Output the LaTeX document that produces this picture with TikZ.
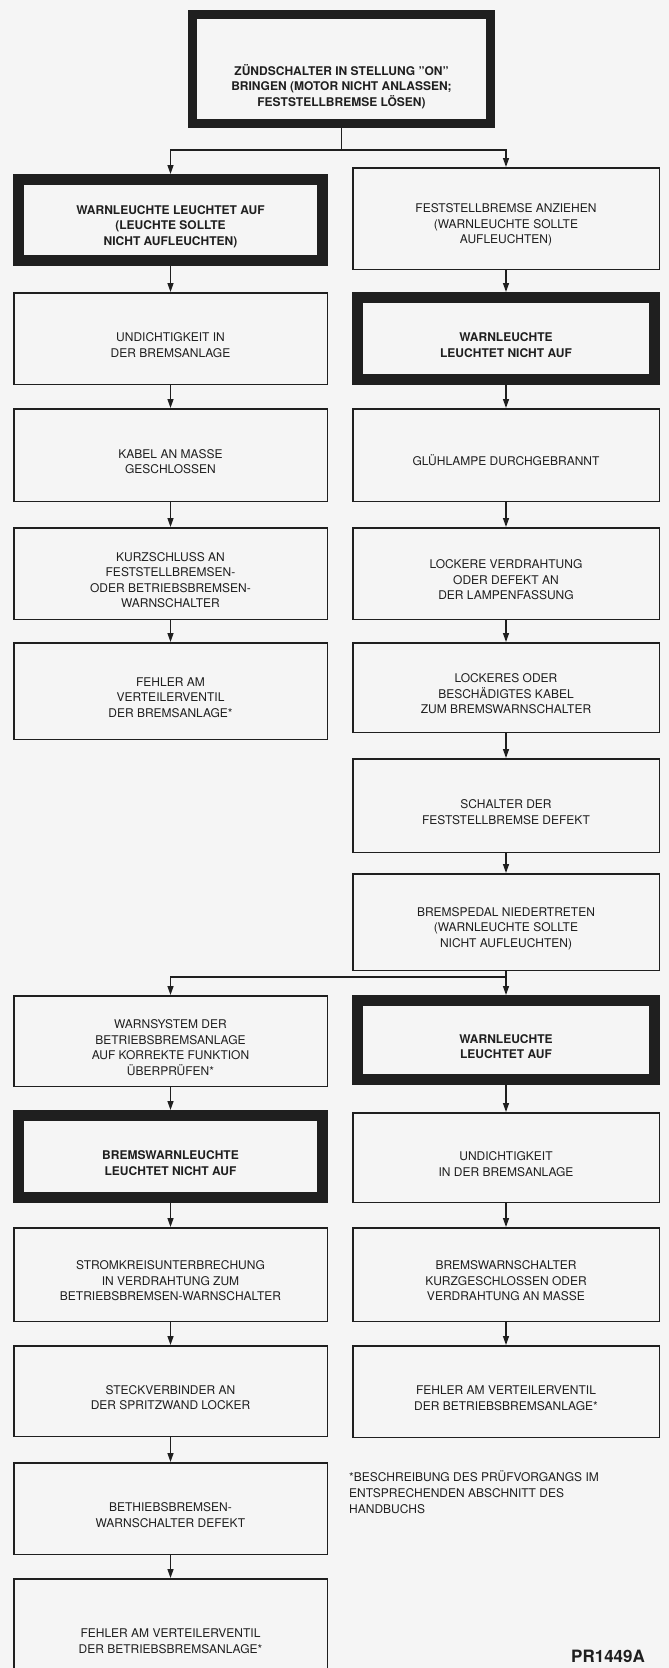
\documentclass[tikz,border=0pt]{standalone}
\usepackage{fontspec}
\setmainfont{TeX Gyre Heros}
\usetikzlibrary{arrows.meta, calc}

\definecolor{paper}{gray}{0.96}
\definecolor{ink}{gray}{0.12}

% raises the first line so the text sits a little low in its box
\newcommand{\boxlift}[1][22pt]{\rule{0pt}{#1}}

\tikzset{
  box/.style={draw=ink, line width=1.5pt, align=center, text=ink,
    font=\fontsize{12}{15.5}\selectfont},
  heavybox/.style={box, line width=11pt, font=\fontsize{12}{15.5}\selectfont\bfseries},
  lcol/.style={minimum width=315pt-\pgflinewidth},
  rcol/.style={minimum width=308pt-\pgflinewidth},
  oh/.style={minimum height=#1pt-\pgflinewidth},
  arr/.style={draw=ink, line width=1.3pt, -{Triangle[length=9pt,width=6pt]}},
  link/.style={draw=ink, line width=1.3pt},
  note/.style={align=left, inner sep=0pt, text=ink, font=\fontsize{12}{16}\selectfont}
}

\begin{document}
\begin{tikzpicture}[x=1pt, y=-1pt]
  % --- page ---
  \path[use as bounding box, clip] (0,0) rectangle (669,1668);
  \fill[paper] (0,0) rectangle (669,1668);

  % --- start box ---
  \node[heavybox, line width=9pt, minimum width=307pt-\pgflinewidth, oh=118] (start) at (341.5,69)
    {\boxlift[46pt]ZÜNDSCHALTER IN STELLUNG "ON"\\BRINGEN (MOTOR NICHT ANLASSEN;\\FESTSTELLBREMSE LÖSEN)};

  % --- left column ---
  \node[heavybox, lcol, oh=92] (l1) at (170.5,220)
    {\boxlift WARNLEUCHTE LEUCHTET AUF\\(LEUCHTE SOLLTE\\NICHT AUFLEUCHTEN)};
  \node[box, lcol, oh=93] (l2) at (170.5,338.5) {\boxlift UNDICHTIGKEIT IN\\DER BREMSANLAGE};
  \node[box, lcol, oh=94] (l3) at (170.5,455) {\boxlift KABEL AN MASSE\\GESCHLOSSEN};
  \node[box, lcol, oh=93] (l4) at (170.5,573.5)
    {\boxlift KURZSCHLUSS AN\\FESTSTELLBREMSEN-\\ODER BETRIEBSBREMSEN-\\WARNSCHALTER};
  \node[box, lcol, oh=98] (l5) at (170.5,691) {\boxlift FEHLER AM\\VERTEILERVENTIL\\DER BREMSANLAGE*};

  \node[box, lcol, oh=92] (l8) at (170.5,1041)
    {\boxlift WARNSYSTEM DER\\BETRIEBSBREMSANLAGE\\AUF KORREKTE FUNKTION\\ÜBERPRÜFEN*};
  \node[heavybox, lcol, oh=93] (l9) at (170.5,1156.5) {\boxlift BREMSWARNLEUCHTE\\LEUCHTET NICHT AUF};
  \node[box, lcol, oh=95] (l10) at (170.5,1274.5)
    {\boxlift STROMKREISUNTERBRECHUNG\\IN VERDRAHTUNG ZUM\\BETRIEBSBREMSEN-WARNSCHALTER};
  \node[box, lcol, oh=92] (l11) at (170.5,1391) {\boxlift STECKVERBINDER AN\\DER SPRITZWAND LOCKER};
  \node[box, lcol, oh=93] (l12) at (170.5,1508.5) {\boxlift BETHIEBSBREMSEN-\\WARNSCHALTER DEFEKT};
  \node[box, lcol, oh=126] (l13) at (170.5,1641)
    {FEHLER AM VERTEILERVENTIL\\DER BETRIEBSBREMSANLAGE*};

  % --- right column ---
  \node[box, rcol, oh=103] (r1) at (506,218.5)
    {\boxlift FESTSTELLBREMSE ANZIEHEN\\(WARNLEUCHTE SOLLTE\\AUFLEUCHTEN)};
  \node[heavybox, rcol, oh=93] (r2) at (506,338.5) {\boxlift WARNLEUCHTE\\LEUCHTET NICHT AUF};
  \node[box, rcol, oh=94] (r3) at (506,455) {\boxlift GLÜHLAMPE DURCHGEBRANNT};
  \node[box, rcol, oh=93] (r4) at (506,573.5)
    {\boxlift LOCKERE VERDRAHTUNG\\ODER DEFEKT AN\\DER LAMPENFASSUNG};
  \node[box, rcol, oh=91] (r5) at (506,687.5)
    {\boxlift LOCKERES ODER\\BESCHÄDIGTES KABEL\\ZUM BREMSWARNSCHALTER};
  \node[box, rcol, oh=95] (r6) at (506,805.5) {\boxlift SCHALTER DER\\FESTSTELLBREMSE DEFEKT};
  \node[box, rcol, oh=98] (r7) at (506,922)
    {\boxlift BREMSPEDAL NIEDERTRETEN\\(WARNLEUCHTE SOLLTE\\NICHT AUFLEUCHTEN)};
  \node[heavybox, rcol, oh=90] (r8) at (506,1040) {\boxlift WARNLEUCHTE\\LEUCHTET AUF};
  \node[box, rcol, oh=91] (r9) at (506,1157.5) {\boxlift UNDICHTIGKEIT\\IN DER BREMSANLAGE};
  \node[box, rcol, oh=95] (r10) at (506,1274.5)
    {\boxlift BREMSWARNSCHALTER\\KURZGESCHLOSSEN ODER\\VERDRAHTUNG AN MASSE};
  \node[box, rcol, oh=93] (r11) at (506,1391.5)
    {\boxlift FEHLER AM VERTEILERVENTIL\\DER BETRIEBSBREMSANLAGE*};

  % --- branch points ---
  \coordinate (j1) at (341.5,150);
  \coordinate (j2) at (506,977);

  % --- connectors ---
  \draw[link] (start) -- (j1);
  \draw[arr] (j1) -| (l1);
  \draw[arr] (j1) -| (r1);

  \draw[arr] (l1) -- (l2);
  \draw[arr] (l2) -- (l3);
  \draw[arr] (l3) -- (l4);
  \draw[arr] (l4) -- (l5);

  \draw[arr] (r1) -- (r2);
  \draw[arr] (r2) -- (r3);
  \draw[arr] (r3) -- (r4);
  \draw[arr] (r4) -- (r5);
  \draw[arr] (r5) -- (r6);
  \draw[arr] (r6) -- (r7);

  \draw[link] (r7) -- (j2);
  \draw[arr] (j2) -| (l8);
  \draw[arr] (j2) -- (r8);

  \draw[arr] (l8) -- (l9);
  \draw[arr] (l9) -- (l10);
  \draw[arr] (l10) -- (l11);
  \draw[arr] (l11) -- (l12);
  \draw[arr] (l12) -- (l13);

  \draw[arr] (r8) -- (r9);
  \draw[arr] (r9) -- (r10);
  \draw[arr] (r10) -- (r11);

  % --- footnote and figure code ---
  \node[note, anchor=north west] (fn) at (349,1470)
    {*BESCHREIBUNG DES PRÜFVORGANGS IM\\ENTSPRECHENDEN ABSCHNITT DES\\HANDBUCHS};
  \node[inner sep=0pt, anchor=base west, text=ink, font=\fontsize{17}{17}\selectfont\bfseries]
    (code) at (571,1662) {PR1449A};
\end{tikzpicture}
\end{document}
